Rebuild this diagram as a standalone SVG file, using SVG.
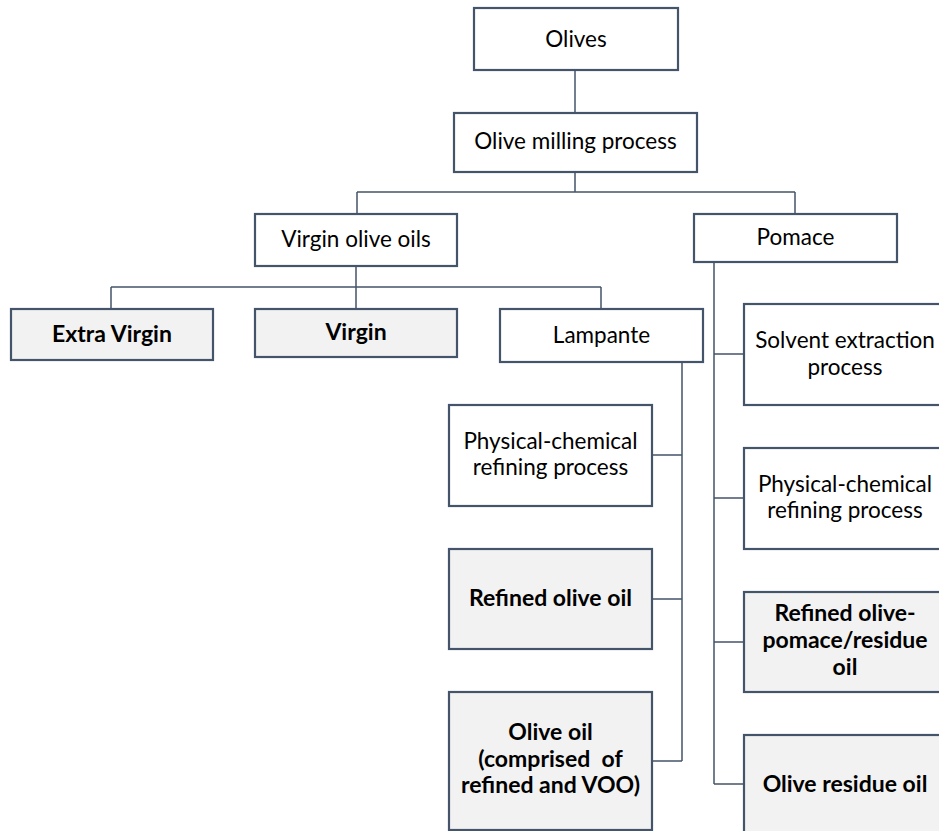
<svg xmlns="http://www.w3.org/2000/svg" width="939" height="831" viewBox="0 0 939 831">
<style>
.box{fill:#ffffff;stroke:#44546a;stroke-width:2.2}
.res{fill:#f2f2f2;stroke:#44546a;stroke-width:2.2}
.t{font-family:Lato,"Open Sans",sans-serif;font-size:22.5px;fill:#000;text-anchor:middle}
.b{font-weight:bold;font-size:23px}
.c{fill:none;stroke:#44546a;stroke-width:1.5}
</style>
<rect width="939" height="831" fill="#ffffff"/>
<g id="connectors">
<path class="c" d="M575,70V113"/>
<path class="c" d="M575,172V192M357,192H795M357,192V214M795,192V214"/>
<path class="c" d="M356,266V309M111,287H601M111,287V309M601,287V309"/>
<path class="c" d="M682,362V761M652,455H682M652,599H682M652,761H682"/>
<path class="c" d="M714,262V784M714,354H744M714,498H744M714,642H744M714,784H744"/>
</g>
<g id="olives"><rect class="box" x="474" y="8" width="204" height="62"/><text class="t" x="576" y="47">Olives</text></g>
<g id="milling"><rect class="box" x="454" y="113" width="243" height="59"/><text class="t" x="575.5" y="149">Olive milling process</text></g>
<g id="virgin-olive-oils"><rect class="box" x="255" y="214" width="202" height="52"/><text class="t" x="356" y="247">Virgin olive oils</text></g>
<g id="pomace"><rect class="box" x="694" y="214" width="203" height="48"/><text class="t" x="795.5" y="245">Pomace</text></g>
<g id="extra-virgin"><rect class="res" x="11" y="309" width="202" height="51"/><text class="t b" x="112" y="342">Extra Virgin</text></g>
<g id="virgin"><rect class="res" x="255" y="309" width="202" height="48"/><text class="t b" x="356" y="340">Virgin</text></g>
<g id="lampante"><rect class="box" x="500" y="309" width="203" height="53"/><text class="t" x="601.5" y="343">Lampante</text></g>
<g id="solvent"><rect class="box" x="744" y="304" width="203" height="101"/><text class="t" x="845" y="348">Solvent extraction</text><text class="t" x="845" y="375">process</text></g>
<g id="refining-left"><rect class="box" x="449" y="405" width="203" height="101"/><text class="t" x="550.5" y="449">Physical-chemical</text><text class="t" x="550.5" y="475">refining process</text></g>
<g id="refining-right"><rect class="box" x="744" y="448" width="203" height="101"/><text class="t" x="845" y="492">Physical-chemical</text><text class="t" x="845" y="518">refining process</text></g>
<g id="refined-olive-oil"><rect class="res" x="449" y="549" width="203" height="100"/><text class="t b" x="550.5" y="606">Refined olive oil</text></g>
<g id="refined-pomace"><rect class="res" x="744" y="592" width="203" height="100"/><text class="t b" x="845" y="621">Refined olive-</text><text class="t b" x="845" y="648">pomace/residue</text><text class="t b" x="845" y="675">oil</text></g>
<g id="olive-oil"><rect class="res" x="449" y="692" width="203" height="138"/><text class="t b" x="550.5" y="740">Olive oil</text><text class="t b" x="550.5" y="767" xml:space="preserve">(comprised  of</text><text class="t b" x="550.5" y="793">refined and VOO)</text></g>
<g id="olive-residue-oil"><rect class="res" x="744" y="735" width="203" height="110"/><text class="t b" x="845" y="792">Olive residue oil</text></g>
</svg>
